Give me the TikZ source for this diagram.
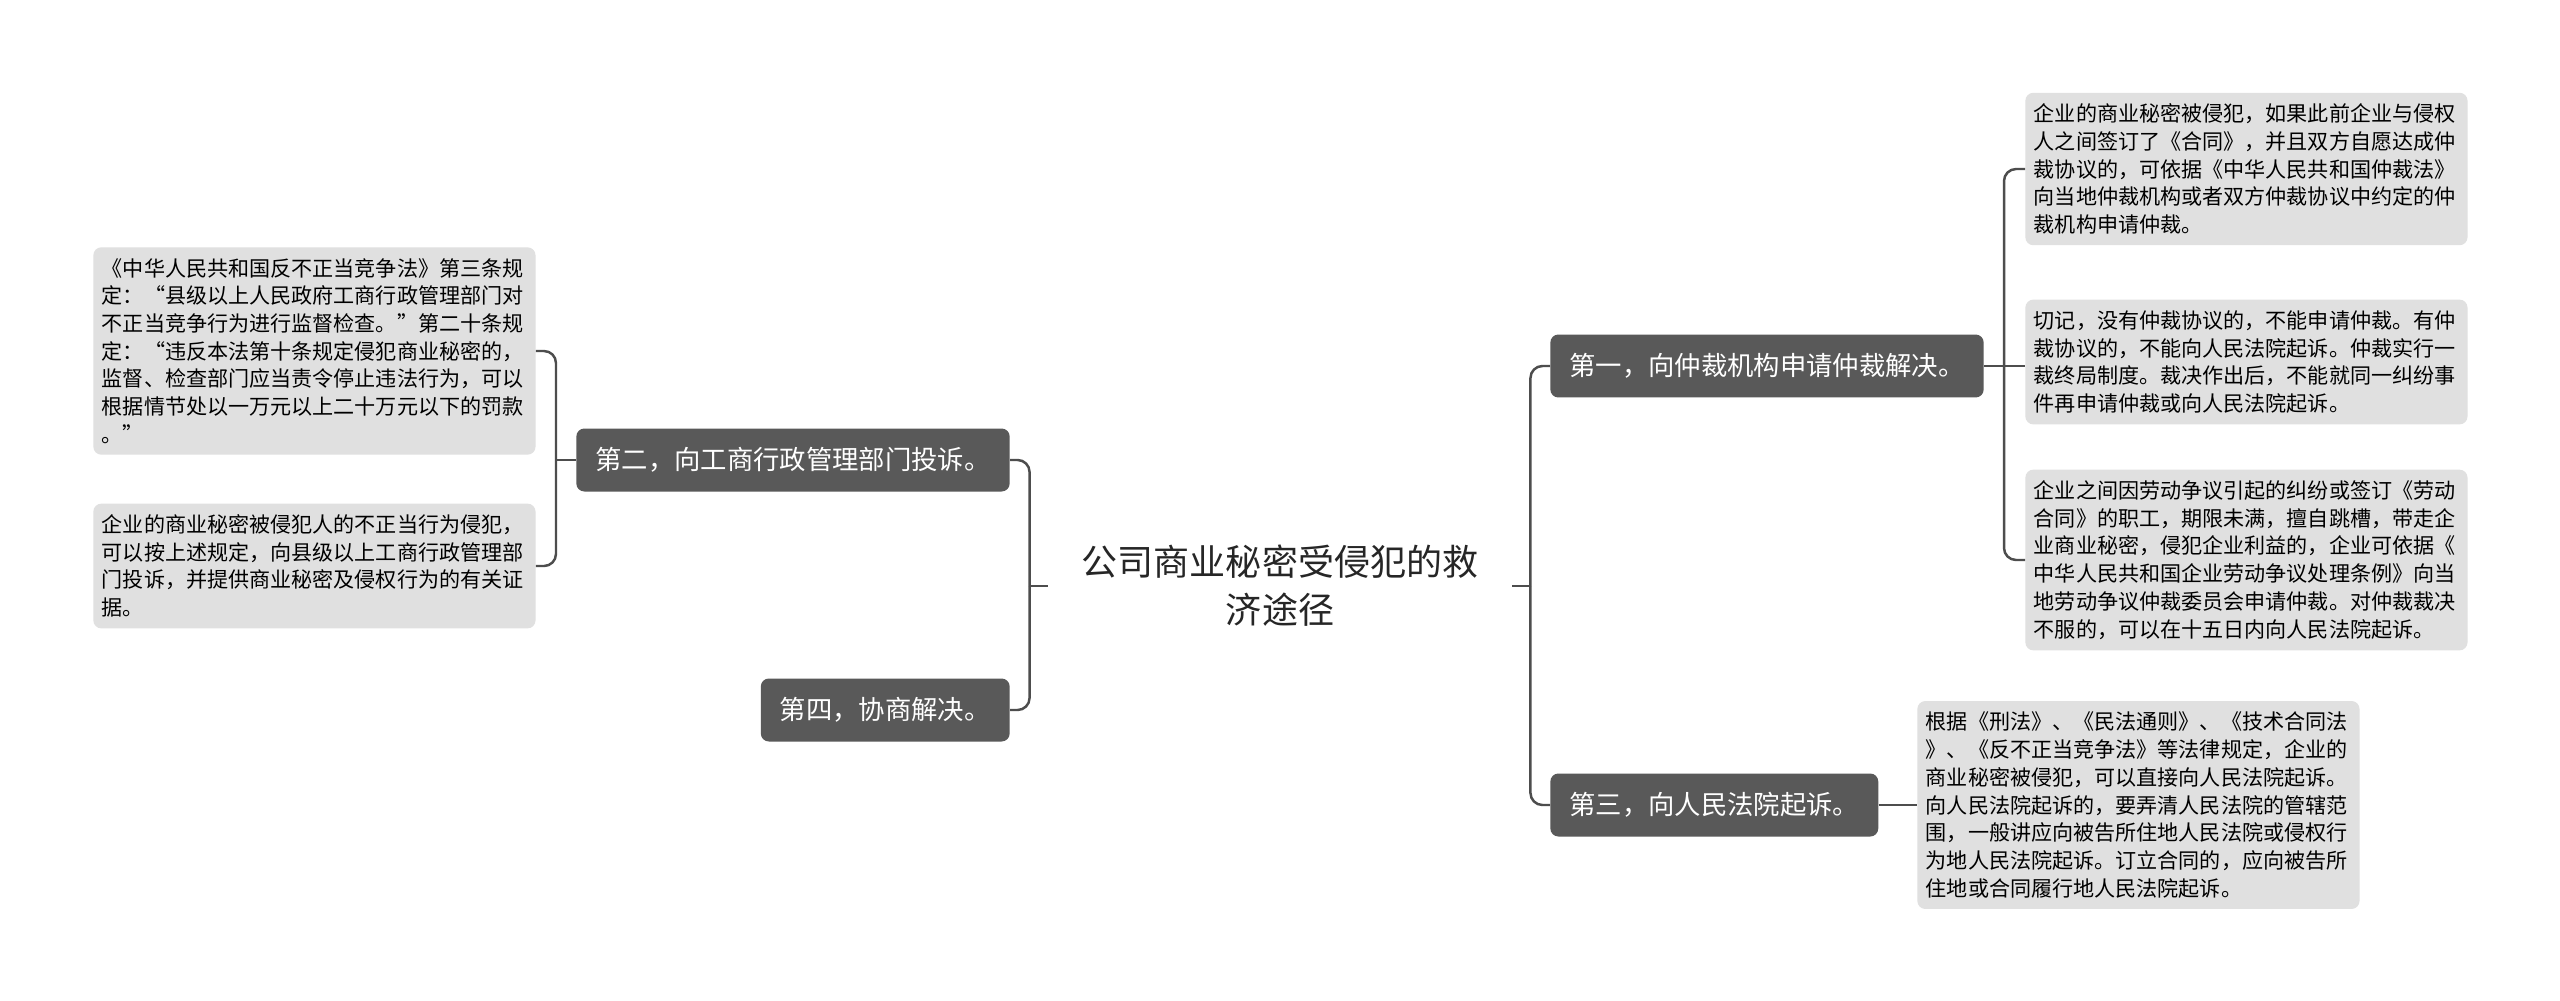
\documentclass[tikz,border=0pt]{standalone}
\usepackage{fontspec}
\setmainfont{Noto Sans CJK SC}

\definecolor{branchgray}{HTML}{595959}
\definecolor{leafgray}{HTML}{E0E0E0}
\definecolor{linegray}{HTML}{4D4D4D}
\definecolor{roottext}{HTML}{262626}

\begin{document}
\begin{tikzpicture}[x=0.02cm, y=-0.02cm,
    branch/.style={fill=branchgray, text=white, rounded corners=0.16cm,
        inner xsep=0.38cm, minimum height=1.26cm,
        font=\fontsize{15pt}{18pt}\selectfont},
    leaf/.style={fill=leafgray, text=black, rounded corners=0.16cm,
        inner xsep=0.17cm, inner ysep=0.22cm, text width=242pt,
        align=left, anchor=west, font=\fontsize{12pt}{15.77pt}\selectfont},
    link/.style={draw=linegray, line width=1.4pt, rounded corners=0.24cm}]
    \useasboundingbox[fill=white] (0,0) rectangle (2560,1001);

    % 中心主题
    \node[text=roottext, align=center, inner xsep=0.68cm,
        font=\fontsize{20.5pt}{27.3pt}\selectfont] (root) at (1280,586)
        {公司商业秘密受侵犯的救\\济途径};

    % 左侧分支
    \node[branch, anchor=east] (second) at (1010,460) {第二，向工商行政管理部门投诉。};
    \node[branch, anchor=east] (fourth) at (1010,710) {第四，协商解决。};
    \node[leaf] (secondA) at (93,351) {《中华人民共和国反不正当竞争法》第三条规\\
        定：“县级以上人民政府工商行政管理部门对\\
        不正当竞争行为进行监督检查。”第二十条规\\
        定：“违反本法第十条规定侵犯商业秘密的，\\
        监督、检查部门应当责令停止违法行为，可以\\
        根据情节处以一万元以上二十万元以下的罚款\\
        。”};
    \node[leaf] (secondB) at (93,566) {企业的商业秘密被侵犯人的不正当行为侵犯，\\
        可以按上述规定，向县级以上工商行政管理部\\
        门投诉，并提供商业秘密及侵权行为的有关证\\
        据。};

    % 右侧分支
    \node[branch, anchor=west] (first) at (1550,366) {第一，向仲裁机构申请仲裁解决。};
    \node[branch, anchor=west] (third) at (1550,805) {第三，向人民法院起诉。};
    \node[leaf] (firstA) at (2025,169) {企业的商业秘密被侵犯，如果此前企业与侵权\\
        人之间签订了《合同》，并且双方自愿达成仲\\
        裁协议的，可依据《中华人民共和国仲裁法》\\
        向当地仲裁机构或者双方仲裁协议中约定的仲\\
        裁机构申请仲裁。};
    \node[leaf] (firstB) at (2025,362) {切记，没有仲裁协议的，不能申请仲裁。有仲\\
        裁协议的，不能向人民法院起诉。仲裁实行一\\
        裁终局制度。裁决作出后，不能就同一纠纷事\\
        件再申请仲裁或向人民法院起诉。};
    \node[leaf] (firstC) at (2025,560) {企业之间因劳动争议引起的纠纷或签订《劳动\\
        合同》的职工，期限未满，擅自跳槽，带走企\\
        业商业秘密，侵犯企业利益的，企业可依据《\\
        中华人民共和国企业劳动争议处理条例》向当\\
        地劳动争议仲裁委员会申请仲裁。对仲裁裁决\\
        不服的，可以在十五日内向人民法院起诉。};
    \node[leaf] (thirdA) at (1917,805) {根据《刑法》、《民法通则》、《技术合同法\\
        》、《反不正当竞争法》等法律规定，企业的\\
        商业秘密被侵犯，可以直接向人民法院起诉。\\
        向人民法院起诉的，要弄清人民法院的管辖范\\
        围，一般讲应向被告所住地人民法院或侵权行\\
        为地人民法院起诉。订立合同的，应向被告所\\
        住地或合同履行地人民法院起诉。};

    % 连线
    \draw[link] (root.west) -- ++(-18,0) coordinate (lhub);
    \draw[link] (lhub) |- (second.east);
    \draw[link] (lhub) |- (fourth.east);
    \draw[link] (root.east) -- ++(18,0) coordinate (rhub);
    \draw[link] (rhub) |- (first.west);
    \draw[link] (rhub) |- (third.west);
    \draw[link] (second.west) -- ++(-20,0) coordinate (hubsecond);
    \draw[link] (hubsecond) |- (secondA.east);
    \draw[link] (hubsecond) |- (secondB.east);
    \draw[link] (first.east) -- ++(20,0) coordinate (hubfirst);
    \draw[link] (hubfirst) |- (firstA.west);
    \draw[link] (hubfirst) -- (hubfirst -| firstB.west);
    \draw[link] (hubfirst) |- (firstC.west);
    \draw[link] (third.east) -- (thirdA.west);
\end{tikzpicture}
\end{document}
